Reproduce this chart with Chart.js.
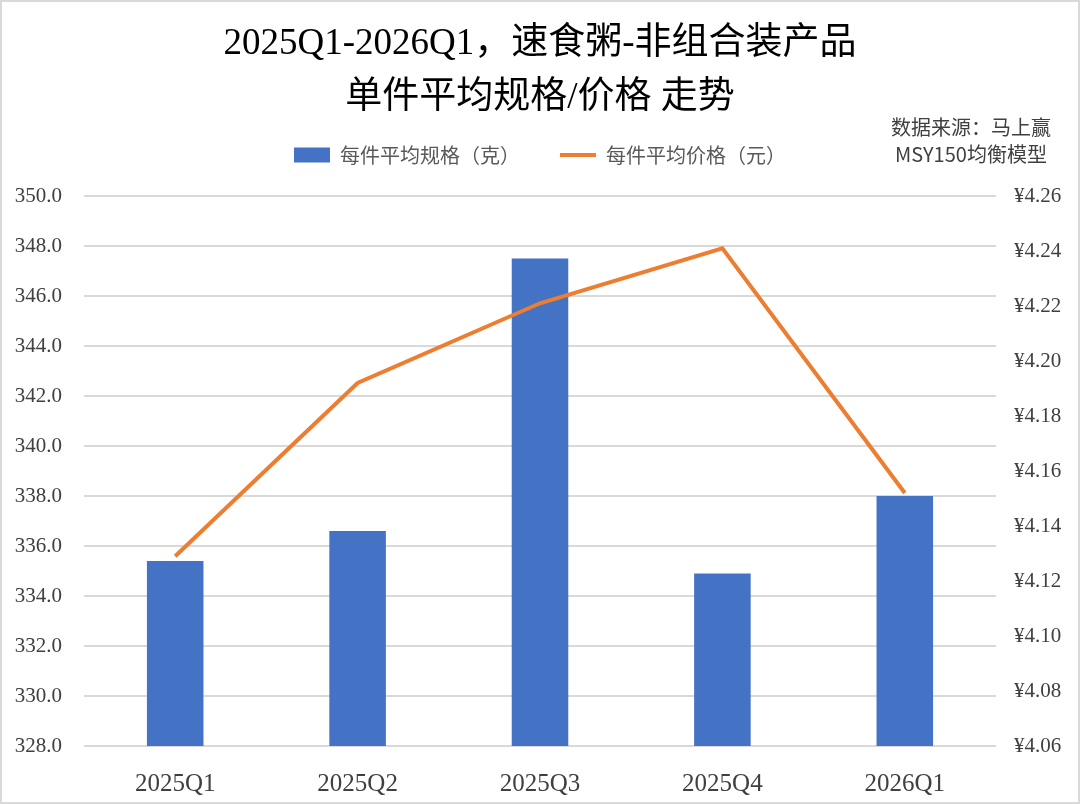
<!DOCTYPE html>
<html>
<head>
<meta charset="utf-8">
<script src="https://cdn.jsdelivr.net/npm/chart.js@4"></script>
<style>
  html, body { margin: 0; padding: 0; background: #fff; }
  .wrap {
    width: 1080px; height: 804px; box-sizing: border-box;
    border: 2px solid #d9d9d9; position: relative;
  }
  canvas { display: block; }
</style>
</head>
<body>
<div class="wrap"><canvas id="chart" width="1076" height="800"></canvas></div>
<script>
const quarters = ['2025Q1', '2025Q2', '2025Q3', '2025Q4', '2026Q1'];
const avgSpec = [335.4, 336.6, 347.5, 334.9, 338.0];      // 每件平均规格（克）
const avgPrice = [4.129, 4.192, 4.221, 4.241, 4.152];     // 每件平均价格（元）
const titleLines = ['2025Q1-2026Q1，速食粥-非组合装产品', '单件平均规格/价格 走势'];
const sourceLines = ['数据来源：马上赢', 'MSY150均衡模型'];

const serif = '"Liberation Serif", "Noto Sans CJK SC", serif';
const cjk = '"Noto Sans CJK SC", sans-serif';

// source note drawn in the top right corner
const sourceNote = {
    id: 'sourceNote',
    afterDraw(chart) {
        const ctx = chart.ctx;
        ctx.save();
        ctx.font = '20px ' + cjk;
        ctx.fillStyle = '#404040';
        ctx.textAlign = 'center';
        ctx.textBaseline = 'middle';
        ctx.fillText(sourceLines[0], 969, 125);
        ctx.fillText(sourceLines[1], 969, 152);
        ctx.restore();
    }
};

// a bit more room under the legend
const legendGap = {
    id: 'legendGap',
    beforeLayout(chart) {
        const lg = chart.legend;
        if (lg && !lg._gapPatched) {
            const fit = lg.fit;
            lg.fit = function () {
                fit.call(this);
                this.height += 21;
            };
            lg._gapPatched = true;
        }
    }
};

const data = {
    labels: quarters,
    datasets: [{
        type: 'line',
        label: '每件平均价格（元）',
        data: avgPrice,
        borderColor: '#ED7D31',
        backgroundColor: '#ED7D31',
        borderWidth: 4,
        pointRadius: 0,
        tension: 0,
        yAxisID: 'y1',
        order: 1
    }, {
        type: 'bar',
        label: '每件平均规格（克）',
        data: avgSpec,
        backgroundColor: '#4472C4',
        yAxisID: 'y',
        categoryPercentage: 1,
        barPercentage: 0.31,
        order: 2
    }]
};

const config = {
    data: data,
    options: {
        responsive: false,
        animation: false,
        layout: { padding: { left: 10, right: 10, top: 0, bottom: 0 } },
        plugins: {
            title: {
                display: true,
                text: titleLines,
                color: '#000',
                font: { family: serif, size: 37, weight: 'normal', lineHeight: 1.46 },
                padding: { top: 15, bottom: -20 }
            },
            legend: {
                display: true,
                reverse: true,
                labels: {
                    color: '#595959',
                    font: { family: cjk, size: 20 },
                    usePointStyle: true,
                    pointStyleWidth: 36,
                    boxHeight: 15,
                    padding: 40,
                    generateLabels(chart) {
                        return chart.data.datasets.map((ds, i) => ({
                            text: ds.label,
                            fillStyle: ds.type === 'bar' ? ds.backgroundColor : ds.borderColor,
                            strokeStyle: ds.type === 'bar' ? ds.backgroundColor : ds.borderColor,
                            lineWidth: ds.type === 'bar' ? 0 : 4,
                            pointStyle: ds.type === 'bar' ? 'rect' : 'line',
                            fontColor: '#595959',
                            datasetIndex: i,
                            hidden: false
                        }));
                    }
                }
            },
            tooltip: { enabled: false }
        },
        scales: {
            x: {
                grid: { display: false },
                border: { display: false },
                ticks: { color: '#404040', font: { family: serif, size: 25 }, padding: 15 },
                afterFit(scale) { scale.height = 56; }
            },
            y: {
                position: 'left',
                min: 328,
                max: 350,
                ticks: {
                    stepSize: 2,
                    color: '#404040',
                    font: { family: serif, size: 21 },
                    padding: 22,
                    callback: v => v.toFixed(1)
                },
                grid: { color: '#d9d9d9', lineWidth: 2, drawTicks: false },
                border: { display: false },
                afterFit(scale) { scale.width = 72; }
            },
            y1: {
                position: 'right',
                min: 4.06,
                max: 4.26,
                ticks: {
                    stepSize: 0.02,
                    color: '#404040',
                    font: { family: serif, size: 21 },
                    padding: 18,
                    callback: v => '¥' + v.toFixed(2)
                },
                grid: { display: false, drawTicks: false },
                border: { display: false },
                afterFit(scale) { scale.width = 72; }
            }
        }
    },
    plugins: [legendGap, sourceNote]
};

const myChart = new Chart(document.getElementById('chart'), config);
</script>
</body>
</html>
